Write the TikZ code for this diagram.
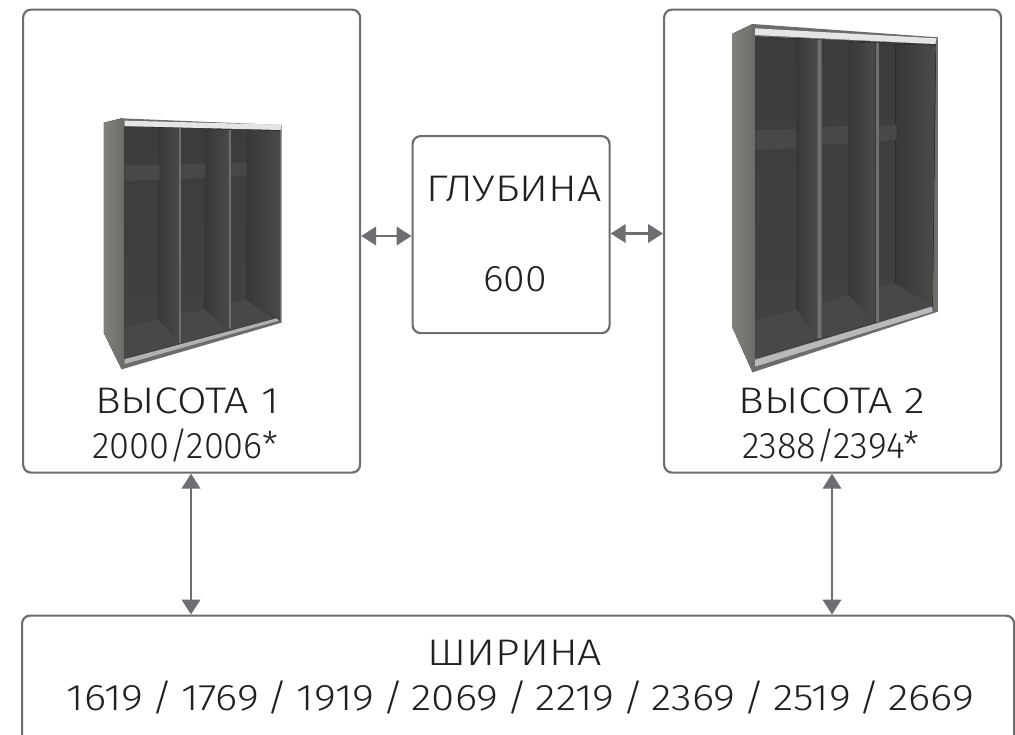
\documentclass[tikz,border=0pt]{standalone}
\usepackage{fontspec}
\setmainfont[FakeStretch=1.16]{Fira Sans Light}
\newfontfamily\digfont[FakeStretch=0.98,Numbers=Proportional]{Fira Sans Light}
\newfontfamily\sixfont[FakeStretch=1.06,Numbers=Proportional]{Fira Sans Light}
\newfontfamily\numfont[FakeStretch=1.14,WordSpace=0.66,Numbers=Proportional]{Fira Sans Light}
\usetikzlibrary{arrows.meta}
\definecolor{edge}{RGB}{109,110,113}
\definecolor{ink}{RGB}{35,31,32}
\definecolor{body}{RGB}{108,109,105}
\definecolor{bodyl}{RGB}{128,129,125}
\definecolor{backt}{RGB}{60,61,59}
\definecolor{backb}{RGB}{66,67,64}
\definecolor{sided}{RGB}{56,57,55}
\definecolor{sidel}{RGB}{74,75,72}
\definecolor{floorc}{RGB}{72,73,70}
\definecolor{strip}{RGB}{72,73,70}
\definecolor{divc}{RGB}{112,113,109}
\tikzset{
 x=1pt,y=-1pt,
 boxn/.style={draw=edge,line width=2.2pt,rounded corners=8pt,fill=white,inner sep=0pt,anchor=north west},
 lab/.style={text=ink,font=\fontsize{37}{38}\selectfont,inner sep=0pt,anchor=base},
 diglab/.style={text=ink,font=\digfont\fontsize{37}{38}\selectfont,inner sep=0pt,anchor=base},
 sixlab/.style={text=ink,font=\sixfont\fontsize{37}{38}\selectfont,inner sep=0pt,anchor=base},
 numlab/.style={text=ink,font=\numfont\fontsize{37}{38}\selectfont,inner sep=0pt,anchor=base},
 dbl/.style={draw=edge,line width=2.4pt,{Triangle[length=15pt,width=18.5pt]}-{Triangle[length=15pt,width=18.5pt]}},
 back/.style={top color=backt,bottom color=backb},
 side/.style={left color=sided,right color=sidel},
}
\begin{document}
\begin{tikzpicture}
\useasboundingbox (0,0) rectangle (1015,734);
\fill[white] (0,0) rectangle (1015,734);
\node[boxn,minimum width=337pt,minimum height=463pt] (h1) at (22,8.5) {};
\node[boxn,minimum width=337pt,minimum height=463pt] (h2) at (663,8.5) {};
\node[boxn,minimum width=197pt,minimum height=197pt] (dp) at (411.5,135) {};
\node[boxn,minimum width=992pt,minimum height=130pt] (wd) at (21,614.5) {};
% wardrobe 1
\begin{scope}[shift={(80,100)},x=0.3333pt,y=-0.3333pt]
\fill[left color=bodyl,right color=body] (72,68)--(125,55)--(134,60)--(134,800)--(125,808)--(72,700)--cycle;
\fill[body] (125,55)--(605,75)--(605,668)--(125,808)--cycle;
\fill[back] (134,80)--(600,90)--(600,660)--(134,775)--cycle;
\fill[side] (237,83)--(300,85)--(300,728)--(237,660)--cycle;
\fill[side] (375,87)--(449,89)--(449,688)--(375,628)--cycle;
\fill[side] (500,90)--(600,92)--(600,662)--(500,600)--cycle;
\fill[floorc] (134,682)--(237,660)--(300,728)--(134,775)--cycle;
\fill[floorc] (304,642)--(375,628)--(449,688)--(304,728)--cycle;
\fill[floorc] (453,608)--(500,600)--(585,656)--(453,688)--cycle;
\fill[strip] (134,195)--(239,195)--(239,240)--(134,243)--cycle;
\fill[strip] (304,193)--(375,191)--(375,234)--(304,237)--cycle;
\fill[strip] (453,190)--(500,188)--(500,226)--(453,229)--cycle;
\fill[divc] (298,85)--(304,85)--(304,728)--(298,728)--cycle;
\fill[divc] (448,89)--(453,89)--(453,688)--(448,688)--cycle;
\fill[gray!20] (134,62)--(604,74)--(602,90)--(134,78)--cycle;
\fill[gray!60] (134,778)--(590,655)--(597,662)--(134,792)--cycle;
\end{scope}
% wardrobe 2
\begin{scope}[shift={(710,10)},x=0.3333pt,y=-0.3333pt]
\fill[left color=bodyl,right color=body] (66,72)--(128,42)--(137,50)--(137,1080)--(128,1087)--(66,950)--cycle;
\fill[body] (128,42)--(684,82)--(684,905)--(128,1087)--cycle;
\fill[back] (137,80)--(678,104)--(668,890)--(137,1045)--cycle;
\fill[side] (260,85)--(322,88)--(322,985)--(260,900)--cycle;
\fill[side] (416,95)--(497,100)--(497,935)--(416,855)--cycle;
\fill[side] (556,103)--(676,106)--(668,890)--(556,820)--cycle;
\fill[floorc] (137,930)--(260,900)--(322,985)--(137,1045)--cycle;
\fill[floorc] (335,880)--(416,855)--(497,935)--(335,985)--cycle;
\fill[floorc] (507,832)--(556,820)--(668,888)--(507,935)--cycle;
\fill[strip] (137,360)--(258,358)--(258,415)--(137,420)--cycle;
\fill[strip] (335,352)--(414,348)--(414,400)--(335,405)--cycle;
\fill[strip] (507,348)--(560,345)--(560,390)--(507,394)--cycle;
\fill[divc] (322,88)--(335,89)--(335,985)--(322,985)--cycle;
\fill[divc] (497,100)--(507,100)--(507,935)--(497,935)--cycle;
\fill[gray!20] (135,55)--(680,85)--(676,102)--(135,75)--cycle;
\fill[gray!55] (135,1050)--(665,890)--(668,905)--(135,1070)--cycle;
\end{scope}
\node[lab] (t1a) at (187,413) {ВЫСОТА 1};
\node[diglab] (t1b) at (185,458) {2000/2006*};
\node[lab] (t2a) at (832,413) {ВЫСОТА 2};
\node[diglab] (t2b) at (831,458) {2388/2394*};
\node[lab] (t3) at (514,201) {ГЛУБИНА};
\node[sixlab] (t4) at (515,291) {600};
\node[lab] (t5) at (515,665) {ШИРИНА};
\node[numlab] (t6) at (520.5,710) {1619 / 1769 / 1919 / 2069 / 2219 / 2369 / 2519 / 2669};
\coordinate (a1) at (0,236);
\coordinate (a2) at (0,233.5);
\coordinate (b1) at (191,0);
\coordinate (b2) at (832,0);
\draw[dbl] (h1.east|-a1) -- (dp.west|-a1);
\draw[dbl] (dp.east|-a2) -- (h2.west|-a2);
\draw[dbl] (b1|-h1.south) -- (b1|-wd.north);
\draw[dbl] (b2|-h2.south) -- (b2|-wd.north);
\end{tikzpicture}
\end{document}
